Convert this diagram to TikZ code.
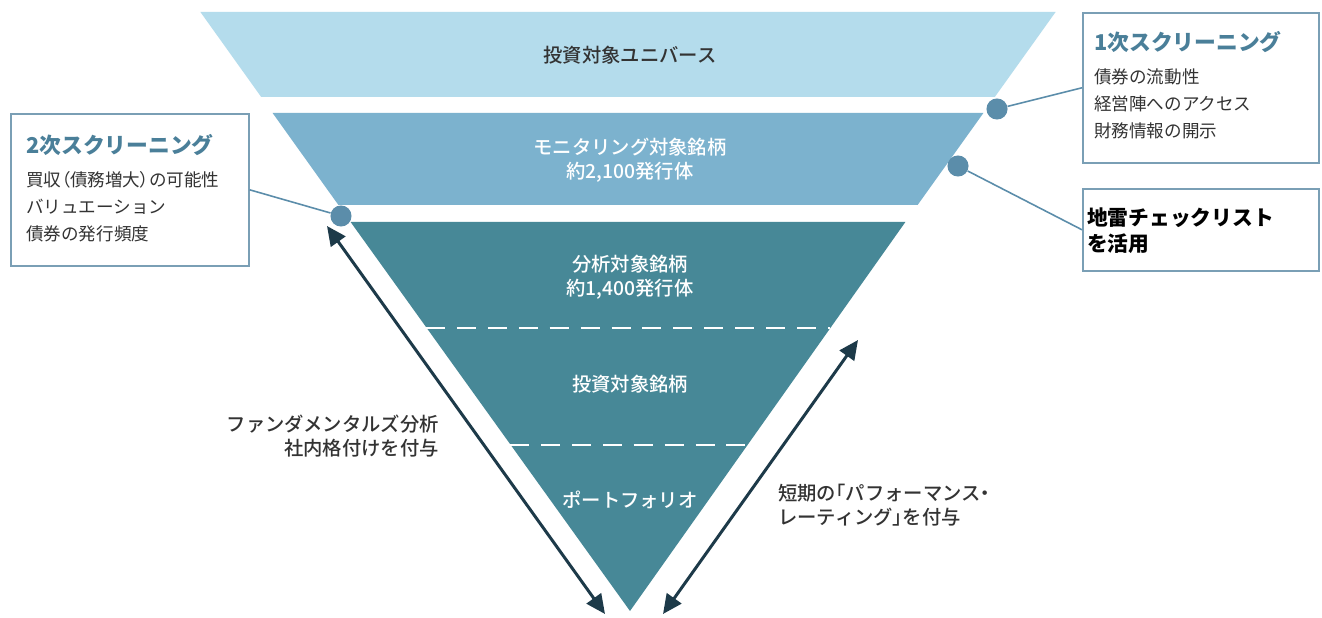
\documentclass[tikz,border=0pt]{standalone}
\usepackage{fontspec}
\usepackage{tikz}
\usetikzlibrary{arrows.meta}
\newfontfamily\jp{Noto Sans CJK JP}
\newfontfamily\jpm{Noto Sans CJK JP Medium}
\newcommand\narrow[1]{{\addfontfeatures{RawFeature=+palt}#1}}

\definecolor{univ}{HTML}{B4DCEC}
\definecolor{moni}{HTML}{7CB2CE}
\definecolor{anal}{HTML}{478897}
\definecolor{arrowc}{HTML}{1D3A49}
\definecolor{dotc}{HTML}{5B8DAA}
\definecolor{framec}{HTML}{7A9FB5}
\definecolor{titlec}{HTML}{4A7F99}
\definecolor{textc}{HTML}{333333}

\begin{document}
\begin{tikzpicture}[x=0.02cm,y=-0.02cm,
	stage/.style={text=white,font=\jpm\fontsize{11}{13.6}\selectfont,align=center},
	infobox/.style={draw=framec,line width=0.9pt,anchor=north west,inner sep=0pt},
	boxtitle/.style={anchor=west,text=titlec,font=\jp\bfseries\fontsize{12.4}{14}\selectfont},
	boxitem/.style={anchor=west,text=textc,font=\jp\fontsize{10}{15.4}\selectfont,align=left},
	pin/.style={circle,fill=dotc,minimum size=12,inner sep=0pt},
	leader/.style={draw=dotc,line width=0.9pt},
	span/.style={arrowc,line width=1.7pt,{Triangle[length=11pt,width=10pt]}-{Triangle[length=11pt,width=10pt]}},
	note/.style={text=textc,font=\jpm\fontsize{11}{13.3}\selectfont}]
\useasboundingbox (0,0) rectangle (1322,618);
\fill[white] (0,0) rectangle (1322,618);

% funnel
\fill[univ] (200.4,12) -- (1055.6,12) -- (994.8,97) -- (261.2,97) -- cycle;
\fill[moni] (272.6,113) -- (983.4,113) -- (917.6,205) -- (338.4,205) -- cycle;
\fill[anal] (350.6,222) -- (905.4,222) -- (630,611) -- cycle;
\draw[white,line width=1.7pt,dash pattern=on 10.8pt off 6.8pt] (426,328) -- (830,328);
\draw[white,line width=1.7pt,dash pattern=on 10.8pt off 6.8pt] (510,445) -- (746,445);

\node[stage,text=textc] (U) at (630,55) {投資対象ユニバース};
\node[stage] (M) at (630,160) {モニタリング対象銘柄\\約2,100発行体};
\node[stage] (A) at (630,277) {分析対象銘柄\\約1,400発行体};
\node[stage] (I) at (630,384) {投資対象銘柄};
\node[stage] (P) at (630,500) {ポートフォリオ};

% screening boxes
\node[infobox,minimum width=236*0.02cm,minimum height=150*0.02cm] (S1) at (1082,12) {};
\node[boxtitle] (S1t) at (1088,42) {1次スクリーニング};
\node[boxitem] (S1i) at (1088,104) {債券の流動性\\経営陣へのアクセス\\財務情報の開示};

\node[infobox,minimum width=236*0.02cm,minimum height=82*0.02cm] (S3) at (1082,188) {};
\node[anchor=west,text=black,font=\jp\bfseries\fontsize{11.8}{14.8}\selectfont,align=left] (S3t) at (1081,231) {地雷チェックリスト\\を活用};

\node[infobox,minimum width=238*0.02cm,minimum height=152*0.02cm] (S2) at (10,113) {};
\node[boxtitle] (S2t) at (20,145) {2次スクリーニング};
\node[boxitem] (S2i) at (20,207) {買収\narrow{（}債務増大\narrow{）}の可能性\\バリュエーション\\債券の発行頻度};

% pins and leaders
\node[pin] (p1) at (997,109) {};
\node[pin] (p2) at (958,166) {};
\node[pin] (p3) at (341,216) {};
\draw[leader] (p1) -- (S1.west);
\draw[leader] (p2) -- (S3.west);
\draw[leader] (p3) -- (S2.east);

% arrows
\coordinate (l1) at (327,226);
\coordinate (l2) at (605,614);
\coordinate (r1) at (663,614);
\coordinate (r2) at (858,340);
\draw[span] (l1) -- (l2);
\draw[span] (r1) -- (r2);
\node[note,align=right,anchor=east] (Lt) at (445,436) {ファンダメンタルズ分析\\社内格付けを付与};
\node[note,align=left,anchor=west] (Rt) at (772,505) {短期の\narrow{「}パフォーマンス\narrow{・}\\レーティング\narrow{」}を付与};
\end{tikzpicture}
\end{document}
